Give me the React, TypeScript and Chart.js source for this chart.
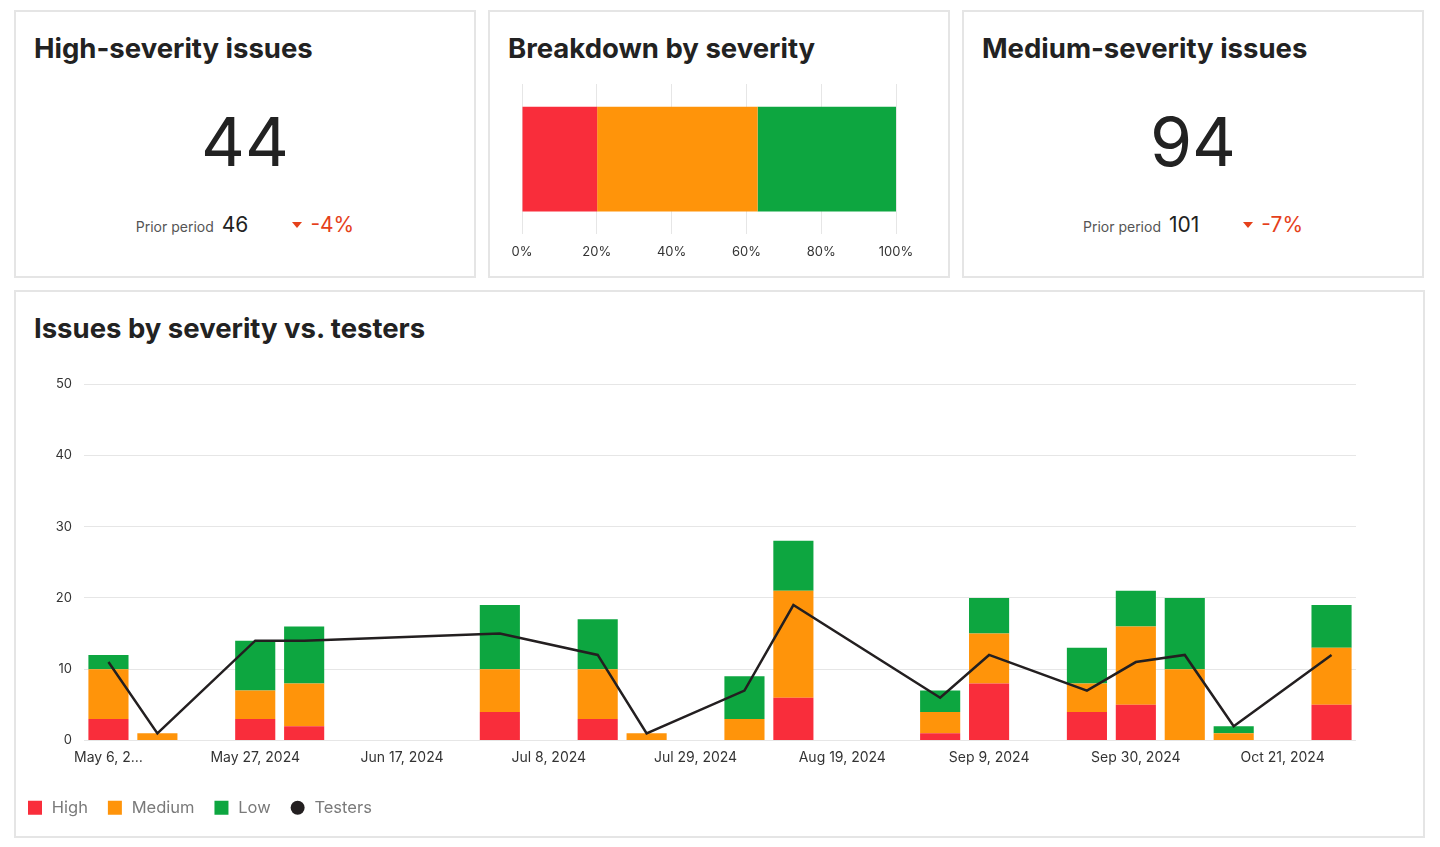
import React, { useEffect, useRef } from "react";
import { Chart, registerables } from "chart.js";

Chart.register(...registerables);

const FONT = "Inter, 'Noto Sans', sans-serif";
const RED = "#F92D3B";
const ORANGE = "#FF940A";
const GREEN = "#0DA640";
const LINE = "#231F20";
const GRID = "#E6E6E6";
const DELTA_RED = "#E5401A";

// ---- data ----
const weeks = [
  "May 6, 2024", "May 13, 2024", "May 20, 2024", "May 27, 2024",
  "Jun 3, 2024", "Jun 10, 2024", "Jun 17, 2024", "Jun 24, 2024",
  "Jul 1, 2024", "Jul 8, 2024", "Jul 15, 2024", "Jul 22, 2024", "Jul 29, 2024",
  "Aug 5, 2024", "Aug 12, 2024", "Aug 19, 2024", "Aug 26, 2024",
  "Sep 2, 2024", "Sep 9, 2024", "Sep 16, 2024", "Sep 23, 2024", "Sep 30, 2024",
  "Oct 7, 2024", "Oct 14, 2024", "Oct 21, 2024", "Oct 28, 2024",
];
const highIssues = [3, 0, null, 3, 2, null, null, null, 4, null, 3, 0, null, 0, 6, null, null, 1, 8, null, 4, 5, 0, 0, null, 5];
const mediumIssues = [7, 1, null, 4, 6, null, null, null, 6, null, 7, 1, null, 3, 15, null, null, 3, 7, null, 4, 11, 10, 1, null, 8];
const lowIssues = [2, 0, null, 7, 8, null, null, null, 9, null, 7, 0, null, 6, 7, null, null, 3, 5, null, 5, 5, 10, 1, null, 6];
const testers = [11, 1, null, 14, 14, null, null, null, 15, null, 12, 1, null, 7, 19, null, null, 6, 12, null, 7, 11, 12, 2, null, 12];
const tickEvery = 3;

const breakdownLabels = ["High", "Medium", "Low"];
const breakdownShare = [20.1, 42.9, 37.0];
const breakdownTicks = [0, 20, 40, 60, 80, 100];

const highKpi = { title: "High-severity issues", value: "44", prior: "46", delta: "-4%" };
const mediumKpi = { title: "Medium-severity issues", value: "94", prior: "101", delta: "-7%" };

function MainChart() {
  const ref = useRef<HTMLCanvasElement | null>(null);
  useEffect(() => {
    if (!ref.current) return;
    const chart = new Chart(ref.current, {
      type: "bar",
      data: {
        labels: weeks,
        datasets: [
          { label: "High", data: highIssues as any, backgroundColor: RED, stack: "issues", categoryPercentage: 0.82, barPercentage: 1, order: 1 },
          { label: "Medium", data: mediumIssues as any, backgroundColor: ORANGE, stack: "issues", categoryPercentage: 0.82, barPercentage: 1, order: 1 },
          { label: "Low", data: lowIssues as any, backgroundColor: GREEN, stack: "issues", categoryPercentage: 0.82, barPercentage: 1, order: 1 },
          {
            type: "line" as any, label: "Testers", data: testers as any, borderColor: LINE, backgroundColor: LINE,
            borderWidth: 2.5, pointRadius: 0, spanGaps: true, tension: 0, stack: "testers", order: 0,
          } as any,
        ],
      },
      options: {
        animation: false,
        responsive: true,
        maintainAspectRatio: false,
        layout: { padding: { left: 0, right: 67, top: 28, bottom: 10 } },
        plugins: {
          tooltip: { enabled: false },
          legend: {
            position: "bottom",
            align: "start",
            labels: {
              boxWidth: 14,
              boxHeight: 14,
              padding: 20,
              color: "#7A7A7A",
              font: { family: FONT, size: 16.5 },
              sort: (a: any, b: any) => a.datasetIndex - b.datasetIndex,
              generateLabels: (c: any) => {
                const items = (Chart.defaults.plugins.legend.labels as any).generateLabels(c);
                return items.map((it: any) => ({ ...it, text: "\u200A" + it.text, lineWidth: 0, borderRadius: it.text === "Testers" ? 7 : 0 }));
              },
            },
          },
        },
        scales: {
          x: {
            stacked: true,
            grid: { display: false, drawTicks: false },
            border: { display: false },
            ticks: {
              autoSkip: false,
              maxRotation: 0,
              padding: 9,
              color: "#333",
              font: { family: FONT, size: 14 },
              callback: (_v: any, i: number) => {
                if (i % tickEvery !== 0) return null;
                return i === 0 ? weeks[i].slice(0, 8) + "…" : weeks[i];
              },
            },
            afterFit: (s: any) => { s.height = 39; },
          },
          y: {
            stacked: true,
            min: 0,
            max: 50,
            ticks: { stepSize: 10, padding: 12, color: "#333", font: { family: FONT, size: 13 } },
            grid: { color: GRID, drawTicks: false },
            border: { display: false },
            afterFit: (s: any) => { s.width = 76; },
          },
        },
      } as any,
    });
    return () => chart.destroy();
  }, []);
  return <canvas ref={ref} />;
}

function BreakdownChart() {
  const ref = useRef<HTMLCanvasElement | null>(null);
  useEffect(() => {
    if (!ref.current) return;
    const colors = [RED, ORANGE, GREEN];
    const chart = new Chart(ref.current, {
      type: "bar",
      data: {
        labels: ["Issues"],
        datasets: breakdownLabels.map((l, i) => ({
          label: l,
          data: [breakdownShare[i]],
          backgroundColor: colors[i],
          barPercentage: 0.87,
          categoryPercentage: 0.8,
        })),
      },
      options: {
        indexAxis: "y",
        animation: false,
        responsive: true,
        maintainAspectRatio: false,
        layout: { padding: { left: 32, right: 52, top: 8, bottom: 0 } },
        plugins: { legend: { display: false }, tooltip: { enabled: false } },
        scales: {
          x: {
            stacked: true,
            min: breakdownTicks[0],
            max: breakdownTicks[breakdownTicks.length - 1],
            ticks: {
              stepSize: 20,
              padding: 10,
              color: "#333",
              font: { family: FONT, size: 13 },
              callback: (v: any) => v + "%",
            },
            grid: { color: GRID, drawTicks: false },
            border: { display: false },
          },
          y: { stacked: true, display: false },
        },
      } as any,
    });
    return () => chart.destroy();
  }, []);
  return <canvas ref={ref} />;
}

const panelStyle = (left: number, top: number, width: number, height: number): React.CSSProperties => ({
  position: "absolute",
  left, top, width, height,
  boxSizing: "border-box",
  border: "2px solid #E5E5E5",
  background: "#fff",
});

const titleStyle: React.CSSProperties = {
  position: "absolute",
  left: 18,
  top: 19,
  fontSize: 27.5,
  lineHeight: "34px",
  fontWeight: 700,
  color: "#222",
  whiteSpace: "nowrap",
};

function Kpi({ left, kpi }: { left: number; kpi: typeof highKpi }) {
  return (
    <div style={panelStyle(left, 10, 462, 268)}>
      <div style={titleStyle}>{kpi.title}</div>
      <div style={{ position: "absolute", left: 0, right: 0, top: 89, textAlign: "center", fontSize: 68, lineHeight: "80px", color: "#222", fontWeight: 400 }}>
        {kpi.value}
      </div>
      <div style={{ position: "absolute", left: 0, right: 0, top: 199, textAlign: "center", lineHeight: "28px", whiteSpace: "nowrap" }}>
        <span style={{ fontSize: 14, color: "#555" }}>Prior period</span>
        <span style={{ fontSize: 21, color: "#222", marginLeft: 8 }}>{kpi.prior}</span>
        <span style={{ display: "inline-block", width: 0, height: 0, borderLeft: "5px solid transparent", borderRight: "5px solid transparent", borderTop: `6px solid ${DELTA_RED}`, marginLeft: 44, marginBottom: 4 }} />
        <span style={{ fontSize: 21, color: DELTA_RED, marginLeft: 8 }}>{kpi.delta}</span>
      </div>
    </div>
  );
}

export default function App() {
  return (
    <div style={{ position: "fixed", left: 0, top: 0, width: 1440, height: 847, background: "#fff", fontFamily: FONT }}>
      <Kpi left={14} kpi={highKpi} />
      <div style={panelStyle(488, 10, 462, 268)}>
        <div style={titleStyle}>Breakdown by severity</div>
      </div>
      <Kpi left={962} kpi={mediumKpi} />
      <div style={panelStyle(14, 290, 1411, 548)}>
        <div style={titleStyle}>Issues by severity vs. testers</div>
      </div>
      <div style={{ position: "absolute", left: 490, top: 76, width: 458, height: 194 }}>
        <BreakdownChart />
      </div>
      <div style={{ position: "absolute", left: 8, top: 356, width: 1415, height: 480 }}>
        <MainChart />
      </div>
    </div>
  );
}
